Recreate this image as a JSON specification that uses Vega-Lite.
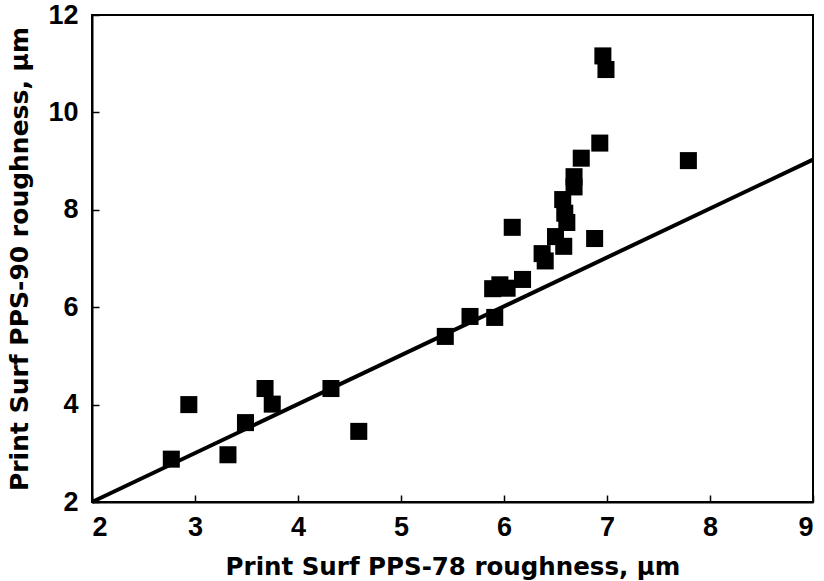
{
  "$schema": "https://vega.github.io/schema/vega-lite/v6.json",
  "autosize": "none",
  "width": 721,
  "height": 487,
  "padding": {"left": 92, "top": 15, "right": 11, "bottom": 79},
  "background": "white",
  "config": {
    "view": {"stroke": "black", "strokeWidth": 2},
    "font": "Liberation Sans",
    "axis": {
      "domainColor": "black",
      "domainWidth": 2,
      "tickColor": "black",
      "tickWidth": 1.5,
      "tickSize": -7,
      "grid": false,
      "labelFont": "Liberation Sans",
      "labelFontWeight": "bold",
      "labelFontSize": 27,
      "labelColor": "black",
      "titleFont": "DejaVu Sans",
      "titleFontWeight": "bold",
      "titleColor": "black"
    }
  },
  "layer": [
    {
      "data": {"values": [{"x": 2, "y": 2}, {"x": 9, "y": 9.03}]},
      "mark": {"type": "line", "color": "black", "strokeWidth": 4},
      "encoding": {
        "x": {"field": "x", "type": "quantitative"},
        "y": {"field": "y", "type": "quantitative"}
      }
    },
    {
      "data": {"values": [
        {"x": 2.77, "y": 2.88},
        {"x": 2.94, "y": 4.0},
        {"x": 3.32, "y": 2.97},
        {"x": 3.49, "y": 3.63},
        {"x": 3.68, "y": 4.33},
        {"x": 3.75, "y": 4.01},
        {"x": 4.32, "y": 4.33},
        {"x": 4.59, "y": 3.45},
        {"x": 5.43, "y": 5.40},
        {"x": 5.67, "y": 5.81},
        {"x": 5.91, "y": 5.79},
        {"x": 5.89, "y": 6.38},
        {"x": 5.96, "y": 6.46},
        {"x": 6.03, "y": 6.39},
        {"x": 6.18, "y": 6.57},
        {"x": 6.08, "y": 7.64},
        {"x": 6.37, "y": 7.10},
        {"x": 6.40, "y": 6.95},
        {"x": 6.50, "y": 7.45},
        {"x": 6.58, "y": 7.25},
        {"x": 6.57, "y": 8.21},
        {"x": 6.59, "y": 7.93},
        {"x": 6.61, "y": 7.74},
        {"x": 6.68, "y": 8.68},
        {"x": 6.68, "y": 8.47},
        {"x": 6.75, "y": 9.06},
        {"x": 6.88, "y": 7.41},
        {"x": 6.93, "y": 9.37},
        {"x": 6.96, "y": 11.16},
        {"x": 6.99, "y": 10.88},
        {"x": 7.79, "y": 9.01}
      ]},
      "mark": {"type": "point", "shape": "square", "filled": true, "color": "black", "size": 290, "opacity": 1},
      "encoding": {
        "x": {"field": "x", "type": "quantitative",
              "scale": {"domain": [2, 9], "nice": false, "zero": false},
              "axis": {"title": "Print Surf PPS-78 roughness, µm", "values": [2, 3, 4, 5, 6, 7, 8, 9], "format": "d", "labelPadding": 19, "titlePadding": 15, "titleFontSize": 24.5}},
        "y": {"field": "y", "type": "quantitative",
              "scale": {"domain": [2, 12], "nice": false, "zero": false},
              "axis": {"title": "Print Surf PPS-90 roughness, µm", "values": [2, 4, 6, 8, 10, 12], "format": "d", "labelPadding": 21, "titlePadding": 15, "titleFontSize": 25}}
      }
    }
  ]
}
